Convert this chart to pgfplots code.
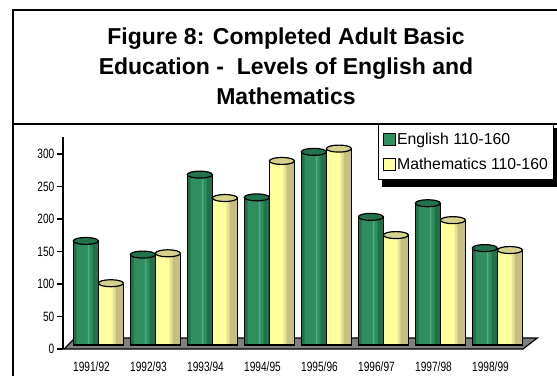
\documentclass[border=0pt]{standalone}
\usepackage{pgfplots}
\usepackage{pgfplotstable}
\pgfplotsset{compat=1.18}
\usepackage{fontspec}
\setmainfont{Liberation Sans}
\definecolor{engmid}{HTML}{2F8E5E}
\definecolor{engdark}{HTML}{21704A}
\definecolor{enghi}{HTML}{4FAE80}
\definecolor{engtop}{HTML}{21734C}
\definecolor{engleg}{HTML}{2F8F5F}
\definecolor{mathlight}{HTML}{FFFF9E}
\definecolor{mathmid}{HTML}{E6E193}
\definecolor{mathdark}{HTML}{C6BF80}
\definecolor{mathtop}{HTML}{D6D28E}
\definecolor{mathleg}{HTML}{FFFF99}
\definecolor{floorgray}{HTML}{808080}
\pgfplotstableread{
x eng math
0 160 95
1 139 141
2 262 226
3 227 283
4 297 302
5 197 169
6 218 192
7 149 146
}\datatable
\begin{document}
\begin{tikzpicture}
\useasboundingbox (0pt,0pt) rectangle (557pt,375pt);
\draw[line width=2pt] (13pt,-5pt) -- (13pt,365pt) -- (565pt,365pt);
\draw[line width=1.6pt] (13pt,251pt) -- (565pt,251pt);
\node[anchor=base, font=\fontsize{23}{28}\selectfont\bfseries, inner sep=0pt] at (286pt,330pt) {Figure 8: Completed Adult Basic};
\node[anchor=base, font=\fontsize{23}{28}\selectfont\bfseries, inner sep=0pt] at (286pt,300pt) {Education -\ \ Levels of English and};
\node[anchor=base, font=\fontsize{23}{28}\selectfont\bfseries, inner sep=0pt] at (286pt,270pt) {Mathematics};
\fill[black] (382pt,188pt) rectangle (559pt,247pt);
\begin{axis}[
  at={(63pt,26pt)}, anchor=south west, scale only axis,
  width=456pt, height=212pt,
  xmin=-0.5, xmax=7.5, ymin=0, ymax=326,
  axis y line=left, axis x line=bottom,
  axis line style={-},
  x axis line style={draw=none},
  y axis line style={line width=1.5pt},
  ytick={0,50,...,300},
  xtick={0,...,7},
  xticklabels={1991/92,1992/93,1993/94,1994/95,1995/96,1996/97,1997/98,1998/99},
  xtick style={draw=none},
  ytick style={line width=1.2pt, black},
  tick align=outside, major tick length=6pt,
  clip=false,
  tick label style={font=\fontsize{13.5}{15}\selectfont, xscale=0.75},
  xticklabel style={yshift=-3pt},
  /pgf/number format/assume math mode=true,
]
\fill[floorgray, draw=black, line width=1.2pt] (axis cs:-0.48,0) -- (axis cs:7.57,0) -- (axis cs:7.82,16.9) -- (axis cs:-0.29,16.9) -- cycle;
\end{axis}
\begin{axis}[
  at={(63pt,26pt)}, anchor=south west, scale only axis,
  width=456pt, height=212pt,
  xmin=-0.5, xmax=7.5, ymin=-6.15, ymax=319.85,
  hide axis, clip=false,
  legend style={at={(0.6908,1.0613)}, anchor=north west, draw=black, line width=1.2pt,
    fill=white, font=\fontsize{15.8}{18}\selectfont, inner xsep=4.5pt, inner ysep=7.5pt,
    row sep=10pt, nodes={inner sep=1pt},
    /tikz/every odd column/.append style={column sep=0pt}},
  legend cell align=left,
]
% English cylinders
\addplot[ybar, bar width=0.44, bar shift=-0.1, fill=engmid, draw=none, forget plot] table[x=x,y=eng] {\datatable};
\addplot[ybar, bar width=0.06, bar shift=-0.29, fill=engdark, draw=none, forget plot] table[x=x,y=eng] {\datatable};
\addplot[ybar, bar width=0.1, bar shift=0.07, fill=engdark, draw=none, forget plot] table[x=x,y=eng] {\datatable};
\addplot[ybar, bar width=0.025, bar shift=-0.05, fill=enghi, draw=none, forget plot] table[x=x,y=eng] {\datatable};
\addplot[ybar, bar width=0.44, bar shift=-0.1, fill=none, draw=black, line width=1.2pt, forget plot] table[x=x,y=eng] {\datatable};
% Mathematics cylinders
\addplot[ybar, bar width=0.44, bar shift=0.34, fill=mathlight, draw=none, forget plot] table[x=x,y=math] {\datatable};
\addplot[ybar, bar width=0.05, bar shift=0.395, fill=mathmid, draw=none, forget plot] table[x=x,y=math] {\datatable};
\addplot[ybar, bar width=0.14, bar shift=0.49, fill=mathdark, draw=none, forget plot] table[x=x,y=math] {\datatable};
\addplot[ybar, bar width=0.44, bar shift=0.34, fill=none, draw=black, line width=1.2pt, forget plot] table[x=x,y=math] {\datatable};
% cylinder tops
\addplot[only marks, mark=*, mark size=12.5pt, mark options={xshift=-5.7pt, yscale=0.28, draw=black, fill=engtop, line width=1.2pt}, forget plot] table[x=x,y=eng] {\datatable};
\addplot[only marks, mark=*, mark size=12.5pt, mark options={xshift=19.4pt, yscale=0.28, draw=black, fill=mathtop, line width=1.2pt}, forget plot] table[x=x,y=math] {\datatable};
\addlegendimage{legend image code/.code={\draw[fill=engleg, draw=black, line width=1pt] (0pt,-6pt) rectangle (12pt,6pt);}}
\addlegendentry{English 110-160}
\addlegendimage{legend image code/.code={\draw[fill=mathleg, draw=black, line width=1pt] (0pt,-6pt) rectangle (12pt,6pt);}}
\addlegendentry{Mathematics 110-160}
\end{axis}
\end{tikzpicture}
\end{document}
